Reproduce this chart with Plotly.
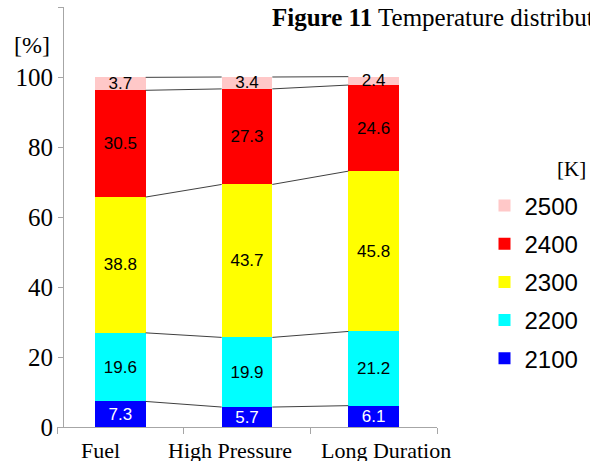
import plotly.graph_objects as go
import numpy as np

categories = ["Fuel", "High Pressure", "Long Duration"]
temps = ["2100", "2200", "2300", "2400", "2500"]
v2100 = [7.3, 5.7, 6.1]
v2200 = [19.6, 19.9, 21.2]
v2300 = [38.8, 43.7, 45.8]
v2400 = [30.5, 27.3, 24.6]
v2500 = [3.7, 3.4, 2.4]
series = [v2100, v2200, v2300, v2400, v2500]
y_ticks = [0, 20, 40, 60, 80, 100, 120]
y_ticktext = ["0", "20", "40", "60", "80", "100", ""]

# horizontal nudges (px) of category labels, as placed in the reference
label_shift = [-20, -17, 12]

colors = ["#0000FF", "#00FFFF", "#FFFF00", "#FF0000", "#FFC8C8"]
text_colors = ["white", "black", "black", "black", "black"]
BW = 0.4

fig = go.Figure()
n = len(temps)
for k, (name, vals, col, tc) in enumerate(zip(temps, series, colors, text_colors)):
    fig.add_trace(go.Bar(
        x=categories, y=vals, name=name, width=BW,
        marker=dict(color=col, line=dict(width=0)),
        text=[f"{v:.1f}" for v in vals], textposition="inside",
        insidetextanchor="middle", textangle=0, constraintext="none",
        textfont=dict(family="Liberation Sans", size=17, color=tc),
        legendgroup=name, legendrank=1000 + (n - k),
    ))

# connector lines between stacked levels
cum = np.cumsum(np.array(series), axis=0)
shapes = []
for level in cum:
    for i in range(len(categories) - 1):
        shapes.append(dict(type="line", xref="x", yref="y",
                           x0=i + BW / 2, x1=i + 1 - BW / 2,
                           y0=level[i], y1=level[i + 1],
                           line=dict(color="#404040", width=1)))

serif = "Liberation Serif"
annotations = [
    dict(text="[%]", xref="paper", yref="paper", x=-0.066, y=0.91,
         xanchor="center", yanchor="middle",
         showarrow=False, font=dict(family=serif, size=24, color="black")),
    dict(text="[K]", xref="paper", yref="paper", x=1.353, y=0.615,
         xanchor="center", yanchor="middle",
         showarrow=False, font=dict(family=serif, size=21, color="black")),
    dict(text="<b>Figure 11</b> Temperature distribution", xref="paper", yref="paper",
         x=0.56, y=0.976, xanchor="left", yanchor="middle", showarrow=False,
         font=dict(family=serif, size=25, color="black")),
]
for cat, sh in zip(categories, label_shift):
    annotations.append(dict(text=cat, x=cat, xref="x", yref="paper", y=-0.022,
                            xanchor="center", yanchor="top", xshift=sh,
                            showarrow=False,
                            font=dict(family=serif, size=22, color="black")))

fig.update_layout(
    width=590, height=461,
    margin=dict(l=57, r=153, t=7, b=34),
    paper_bgcolor="white", plot_bgcolor="white",
    barmode="stack", bargap=0.6,
    shapes=shapes,
    showlegend=True,
    legend=dict(traceorder="grouped", x=1.125, xanchor="left", y=0.58, yanchor="top",
                font=dict(family="Liberation Sans", size=24, color="black"),
                tracegroupgap=4, itemclick=False),
    uniformtext=dict(minsize=17, mode="show"),
    xaxis=dict(range=[-0.5, len(categories) - 0.5], autorange=False,
               showline=True, linecolor="#a6a6a6", linewidth=1,
               ticks="outside", tickson="boundaries", ticklen=6, tickcolor="#a6a6a6",
               showticklabels=False, automargin=False,
               showgrid=False, zeroline=False),
    yaxis=dict(range=[0, 120], tickvals=y_ticks, ticktext=y_ticktext,
               showline=True, linecolor="#a6a6a6", linewidth=1,
               ticks="outside", ticklen=5, tickcolor="#a6a6a6",
               tickfont=dict(family=serif, size=25, color="black"),
               showgrid=False, zeroline=False, automargin=False,
               anchor="free", position=0.016),
    annotations=annotations,
)

fig.write_html("out.html")
